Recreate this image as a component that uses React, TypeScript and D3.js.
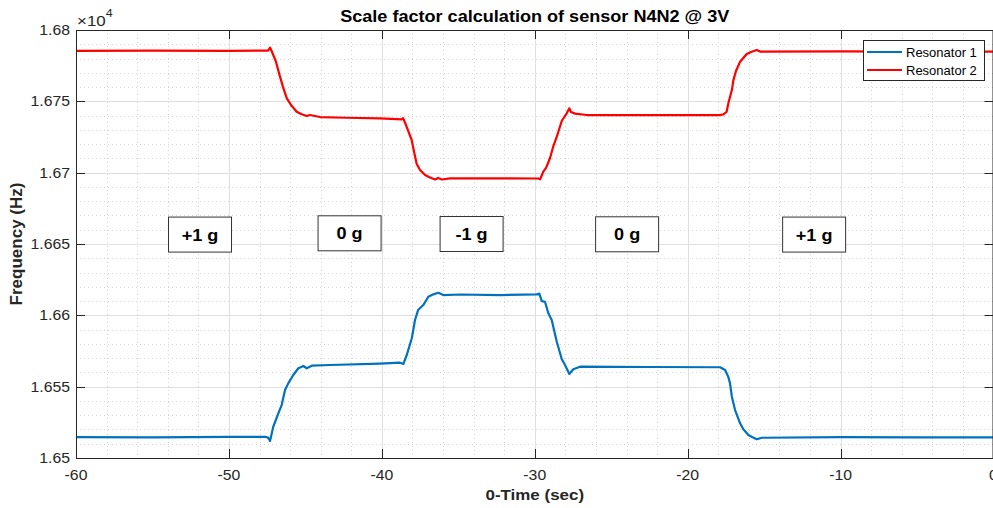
import React from "react";
import * as d3 from "d3";

// Resonator 1 (blue) — [time s, frequency Hz]
const resonator1: [number, number][] = [
  [-60, 16514.7], [-55, 16514.5], [-50, 16514.8], [-47.64, 16514.9], [-47.44, 16514.3], [-47.31, 16511.9],
  [-47.1, 16521.9], [-46.77, 16531.3], [-46.55, 16537.1], [-46.33, 16547.6], [-46.12, 16552.3],
  [-45.79, 16558.2], [-45.46, 16562.9], [-45.13, 16564.5], [-44.91, 16562.9], [-44.58, 16564.7],
  [-43.39, 16565.2], [-40.12, 16566.2], [-38.81, 16566.8], [-38.59, 16565.9], [-38.37, 16572.2],
  [-38.04, 16583.9], [-37.83, 16596.7], [-37.63, 16603.7], [-37.29, 16607.2], [-36.96, 16613.0],
  [-36.63, 16614.7], [-36.3, 16615.8], [-35.98, 16614.2], [-34.89, 16614.6], [-32.27, 16614.2],
  [-29.87, 16614.7], [-29.7, 16615.2], [-29.54, 16610.0], [-29.33, 16609.5], [-29.11, 16601.4],
  [-28.89, 16596.7], [-28.56, 16581.5], [-28.23, 16569.2], [-28.02, 16565.2], [-27.74, 16558.9],
  [-27.48, 16562.2], [-27.04, 16564.0], [-22.46, 16563.8], [-17.88, 16563.6], [-17.55, 16561.7],
  [-17.34, 16556.8], [-17.23, 16552.3], [-17.11, 16543.0], [-16.9, 16533.6], [-16.57, 16524.3],
  [-16.36, 16520.1], [-16.03, 16516.1], [-15.79, 16514.7], [-15.48, 16513.1], [-15.15, 16514.2],
  [-10, 16514.6], [-5, 16514.4], [0, 16514.5],
];

// Resonator 2 (red) — [time s, frequency Hz]
const resonator2: [number, number][] = [
  [-60, 16785.3], [-55, 16785.5], [-50, 16785.3], [-47.44, 16785.6], [-47.31, 16787.7], [-47.18, 16784.6],
  [-46.92, 16777.6], [-46.66, 16767.3], [-46.46, 16760.0], [-46.22, 16752.3], [-45.94, 16747.4],
  [-45.57, 16742.7], [-45.28, 16741.1], [-44.91, 16739.7], [-44.7, 16740.4], [-44.04, 16739.0],
  [-42.3, 16738.5], [-40.12, 16738.0], [-38.7, 16737.4], [-38.61, 16738.2], [-38.42, 16733.4],
  [-38.05, 16722.9], [-37.89, 16714.5], [-37.72, 16706.1], [-37.5, 16701.9], [-37.17, 16698.4],
  [-36.85, 16696.6], [-36.52, 16695.2], [-36.32, 16696.3], [-36.06, 16695.2], [-35.54, 16696.0],
  [-32.27, 16696.0], [-29.76, 16695.9], [-29.65, 16695.3], [-29.44, 16700.7], [-29.26, 16703.3],
  [-29.0, 16710.3], [-28.8, 16718.0], [-28.56, 16725.2], [-28.23, 16736.4], [-27.91, 16741.6],
  [-27.74, 16745.1], [-27.63, 16742.5], [-27.36, 16741.4], [-26.6, 16740.4], [-22.46, 16740.4],
  [-17.88, 16740.4], [-17.66, 16740.9], [-17.45, 16742.7], [-17.34, 16748.6], [-17.11, 16757.9],
  [-17.01, 16764.9], [-16.84, 16771.3], [-16.57, 16777.8], [-16.14, 16783.2], [-15.86, 16784.6],
  [-15.48, 16786.0], [-15.27, 16784.9], [-10, 16785.0], [-5, 16784.9], [0, 16784.9],
];

const seriesNames = ["Resonator 1", "Resonator 2"];
const seriesColors = ["#0072BD", "#FF0000"];

const xTicks = [-60, -50, -40, -30, -20, -10, 0];
const yTicks = [16500, 16550, 16600, 16650, 16700, 16750, 16800];

// annotation boxes: label, centre time, centre frequency
const boxLabels = ["+1 g", "0 g", "-1 g", "0 g", "+1 g"];
const boxTimes = [-51.89, -42.11, -34.13, -23.96, -11.73];
const boxFreqs = [16656.6, 16657.5, 16657.0, 16656.8, 16656.6];

const W = 993;
const H = 508;
const M = { left: 76, right: 993.5, top: 30, bottom: 458 };
const FONT = "'Liberation Sans', Arial, Helvetica, sans-serif";
const SX = 1.13; // horizontal glyph stretch seen in the reference

type TProps = {
  x: number;
  y: number;
  anchor?: "start" | "middle" | "end";
  size: number;
  bold?: boolean;
  fill?: string;
  children: React.ReactNode;
};

function T({ x, y, anchor = "start", size, bold, fill = "#262626", children }: TProps) {
  return (
    <text
      transform={`translate(${x},${y}) scale(${SX},1)`}
      textAnchor={anchor}
      fontSize={size}
      fontWeight={bold ? "bold" : "normal"}
      fill={fill}
    >
      {children}
    </text>
  );
}

export default function App() {
  const x = d3.scaleLinear().domain([-60, 0]).range([M.left, M.right]);
  const y = d3.scaleLinear().domain([16500, 16800]).range([M.bottom, M.top]);
  const line = d3
    .line<[number, number]>()
    .x((d) => x(d[0]))
    .y((d) => y(d[1]));

  const xMinor = d3.range(-60, 0.001, 2).filter((v) => !xTicks.includes(v));
  const yMinor = d3.range(16500, 16800.001, 10).filter((v) => !yTicks.includes(v));

  const tickLen = 9;
  const axisColor = "#262626";
  const px = (v: number) => Math.round(v) + 0.5;

  return (
    <svg
      width={W}
      height={H}
      style={{ position: "absolute", left: 0, top: 0, background: "#fff" }}
      fontFamily={FONT}
    >
      <defs>
        <clipPath id="plotClip">
          <rect x={M.left} y={M.top} width={M.right - M.left} height={M.bottom - M.top} />
        </clipPath>
      </defs>
      <rect x={0} y={0} width={W} height={H} fill="#fff" />

      {/* minor grid */}
      <g stroke="#d4d4d4" strokeWidth={1} strokeDasharray="1,3">
        {xMinor.map((v) => (
          <line key={"xm" + v} x1={px(x(v))} x2={px(x(v))} y1={M.top} y2={M.bottom} />
        ))}
        {yMinor.map((v) => (
          <line key={"ym" + v} x1={M.left} x2={M.right} y1={px(y(v))} y2={px(y(v))} />
        ))}
      </g>
      {/* major grid */}
      <g stroke="#dfdfdf" strokeWidth={1}>
        {xTicks.map((v) => (
          <line key={"xg" + v} x1={px(x(v))} x2={px(x(v))} y1={M.top} y2={M.bottom} />
        ))}
        {yTicks.map((v) => (
          <line key={"yg" + v} x1={M.left} x2={M.right} y1={px(y(v))} y2={px(y(v))} />
        ))}
      </g>

      {/* data lines */}
      <g clipPath="url(#plotClip)" fill="none" strokeWidth={2.2} strokeLinejoin="round">
        <path d={line(resonator1) || ""} stroke={seriesColors[0]} />
        <path d={line(resonator2) || ""} stroke={seriesColors[1]} />
      </g>

      {/* annotation boxes */}
      {boxLabels.map((lab, i) => {
        const cx = x(boxTimes[i]);
        const cy = y(boxFreqs[i]);
        return (
          <g key={"box" + i}>
            <rect x={cx - 31.5} y={cy - 17.5} width={63} height={35} fill="#fff" stroke="#333" strokeWidth={1} />
            <T x={cx} y={cy + 6} anchor="middle" size={16} bold fill="#000">
              {lab}
            </T>
          </g>
        );
      })}

      {/* axes box */}
      <g stroke={axisColor} strokeWidth={1} fill="none">
        <line x1={M.left} x2={M.right} y1={M.top + 0.5} y2={M.top + 0.5} />
        <line x1={M.left} x2={M.right} y1={M.bottom + 0.5} y2={M.bottom + 0.5} />
        <line x1={M.left + 0.5} x2={M.left + 0.5} y1={M.top} y2={M.bottom} />
        <line x1={M.right - 0.5} x2={M.right - 0.5} y1={M.top} y2={M.bottom} />
        {xTicks.map((v) => (
          <g key={"xt" + v}>
            <line x1={px(x(v))} x2={px(x(v))} y1={M.bottom} y2={M.bottom - tickLen} />
            <line x1={px(x(v))} x2={px(x(v))} y1={M.top} y2={M.top + tickLen} />
          </g>
        ))}
        {yTicks.map((v) => (
          <g key={"yt" + v}>
            <line x1={M.left} x2={M.left + tickLen} y1={px(y(v))} y2={px(y(v))} />
            <line x1={M.right} x2={M.right - tickLen} y1={px(y(v))} y2={px(y(v))} />
          </g>
        ))}
      </g>

      {/* tick labels */}
      {xTicks.map((v) => (
        <T key={"xl" + v} x={x(v)} y={M.bottom + 22} anchor="middle" size={14}>
          {String(v)}
        </T>
      ))}
      {yTicks.map((v) => (
        <T key={"yl" + v} x={M.left - 6} y={y(v) + 5} anchor="end" size={14}>
          {String(+(v / 1e4).toFixed(4))}
        </T>
      ))}
      <text transform={`translate(${M.left + 1},${M.top - 4}) scale(${SX},1)`} fontSize={15} fill={axisColor}>
        <tspan>×10</tspan>
        <tspan fontSize={11} dy={-9}>4</tspan>
      </text>

      {/* labels */}
      <T x={(M.left + M.right) / 2} y={22} anchor="middle" size={16} bold fill="#000">
        Scale factor calculation of sensor N4N2 @ 3V
      </T>
      <T x={(M.left + M.right) / 2} y={500} anchor="middle" size={15} bold>
        0-Time (sec)
      </T>
      <text
        transform={`translate(22, ${(M.top + M.bottom) / 2}) rotate(-90)`}
        textAnchor="middle"
        fontSize={17}
        fontWeight="bold"
        fill={axisColor}
      >
        Frequency (Hz)
      </text>

      {/* legend */}
      <g>
        <rect x={863.5} y={40.5} width={121} height={40} fill="#fff" stroke={axisColor} strokeWidth={1} />
        {seriesNames.map((name, i) => (
          <g key={name}>
            <line x1={867} x2={902} y1={52 + i * 18} y2={52 + i * 18} stroke={seriesColors[i]} strokeWidth={2} />
            <text x={906} y={56.5 + i * 18} fontSize={13} fill="#000">
              {name}
            </text>
          </g>
        ))}
      </g>
    </svg>
  );
}
